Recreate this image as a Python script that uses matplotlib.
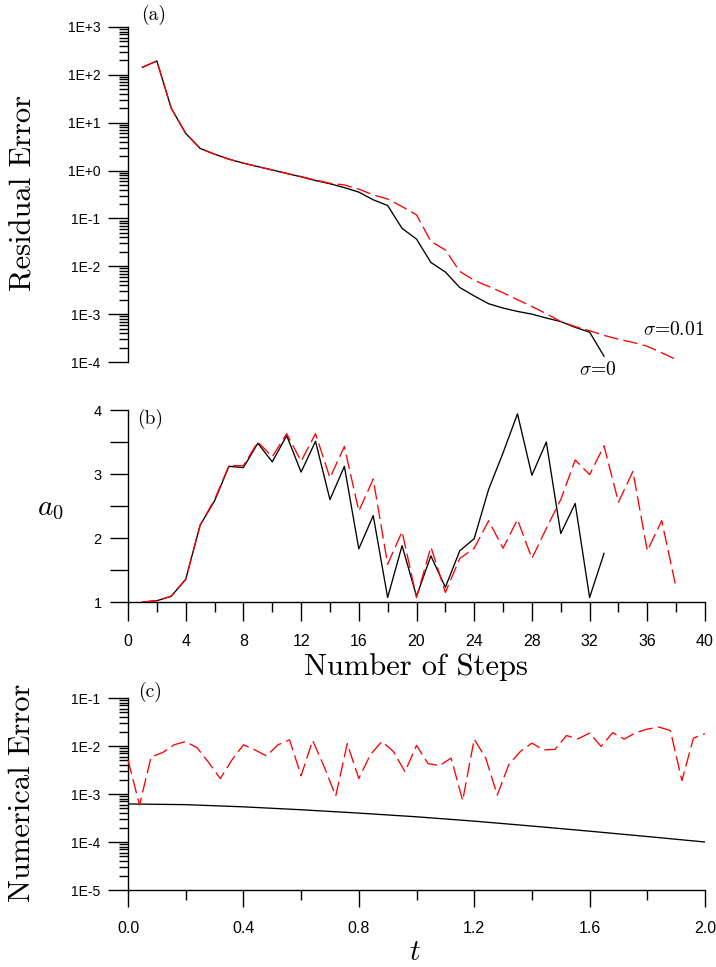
import numpy as np
import matplotlib
matplotlib.use("Agg")
import matplotlib.pyplot as plt
from matplotlib.ticker import FixedLocator, FuncFormatter, LogLocator, MultipleLocator, NullFormatter

plt.rcParams['mathtext.fontset'] = 'cm'
plt.rcParams['font.family'] = ['Liberation Sans', 'DejaVu Sans']

# ---------------- data ----------------
steps_black = list(range(1, 34))
steps_red = list(range(1, 39))

resid_black = [144, 195, 20, 6.0, 2.9, 2.2, 1.73, 1.43, 1.21, 1.03, 0.87, 0.74, 0.62,
               0.53, 0.44, 0.355, 0.245, 0.186, 0.062, 0.037, 0.012, 0.0076, 0.0036,
               0.0024, 0.00165, 0.00134, 0.00114, 0.001, 0.00083, 0.0007, 0.00053,
               0.00042, 0.000132]
resid_red = [144, 195, 20, 6.0, 2.9, 2.2, 1.73, 1.43, 1.21, 1.03, 0.87, 0.75, 0.63,
             0.545, 0.50, 0.41, 0.31, 0.255, 0.177, 0.119, 0.033, 0.022, 0.0078,
             0.0051, 0.0038, 0.0028, 0.002, 0.00145, 0.00102, 0.0007, 0.00055,
             0.00045, 0.00036, 0.0003, 0.000257, 0.000213, 0.000156, 0.000113]

a0_black = [1.0, 1.02, 1.09, 1.355, 2.2, 2.58, 3.12, 3.10, 3.48, 3.19, 3.60, 3.03, 3.51,
            2.60, 3.12, 1.83, 2.35, 1.07, 1.88, 1.09, 1.72, 1.23, 1.80, 1.99, 2.76, 3.33,
            3.94, 2.98, 3.50, 2.07, 2.54, 1.07, 1.76]
a0_red = [1.0, 1.02, 1.09, 1.355, 2.2, 2.6, 3.13, 3.13, 3.50, 3.27, 3.63, 3.20, 3.63,
          2.94, 3.43, 2.42, 2.92, 1.59, 2.10, 1.07, 1.86, 1.15, 1.68, 1.84, 2.27, 1.84,
          2.29, 1.68, 2.15, 2.60, 3.22, 2.99, 3.44, 2.56, 3.04, 1.80, 2.27, 1.22]

t_red = np.linspace(0.0, 2.0, 51)
err_red = [0.0051, 0.00059, 0.0059, 0.0073, 0.0106, 0.0124, 0.0091, 0.0045, 0.0021,
           0.0051, 0.0106, 0.0083, 0.0062, 0.0106, 0.0134, 0.0024, 0.013, 0.0037,
           0.00091, 0.0112, 0.0021, 0.0066, 0.0124, 0.0077, 0.0029, 0.0103, 0.0043,
           0.0039, 0.0056, 0.00073, 0.0139, 0.0056, 0.00095, 0.0041, 0.0077, 0.0115,
           0.0083, 0.0085, 0.0165, 0.0141, 0.0186, 0.0098, 0.019, 0.0139, 0.019,
           0.0225, 0.0248, 0.021, 0.0019, 0.0146, 0.018]
t_black = [0.0, 0.2, 0.4, 0.6, 0.8, 1.0, 1.2, 1.4, 1.6, 1.8, 2.0]
err_black = [6.2e-4, 6.0e-4, 5.4e-4, 4.7e-4, 4.0e-4, 3.35e-4, 2.72e-4, 2.15e-4,
             1.68e-4, 1.3e-4, 1.0e-4]

# ---------------- layout ----------------
W, H = 716, 967
fig = plt.figure(figsize=(W / 100, H / 100), dpi=100)


def rect(l, t, r, b):
    return [l / W, 1 - b / H, (r - l) / W, (b - t) / H]


def fx(x):
    return x / W


def fy(y):
    return 1 - y / H


RED = '#ff0000'
LW = 0.95
DASH = (11, 4)
SPINE_LW = 1.0
SERIF = 'cmr10'


def sci(v, p):
    e = int(round(np.log10(v)))
    return f"1E{e:+d}"


def style_log_y(ax):
    ax.set_yscale('log')
    ax.yaxis.set_major_locator(LogLocator(base=10, numticks=20))
    ax.yaxis.set_minor_locator(LogLocator(base=10, subs=np.arange(2, 10), numticks=20))
    ax.yaxis.set_major_formatter(FuncFormatter(sci))
    ax.yaxis.set_minor_formatter(NullFormatter())
    ax.tick_params(axis='y', which='major', direction='out', length=14.4, width=1.0,
                   labelsize=10, pad=5.5)
    ax.tick_params(axis='y', which='minor', direction='out', length=6.5, width=1.0)


# ---- (a) ----
axA = fig.add_axes(rect(128, 27, 705, 362))
axA.plot(steps_black, resid_black, color='black', lw=LW, zorder=3)
axA.plot(steps_red, resid_red, color=RED, lw=LW, dashes=DASH, zorder=4)
style_log_y(axA)
axA.set_ylim(1e-4, 1e3)
axA.set_xlim(0, 40)
for s in ['top', 'right', 'bottom']:
    axA.spines[s].set_visible(False)
axA.spines['left'].set_linewidth(SPINE_LW)
axA.xaxis.set_visible(False)
axA.patch.set_visible(False)

# ---- (b) ----
axB = fig.add_axes(rect(128, 410, 705, 602))
axB.plot(steps_black, a0_black, color='black', lw=LW, zorder=3)
axB.plot(steps_red, a0_red, color=RED, lw=LW, dashes=DASH, zorder=4)
axB.set_xlim(0, 40)
axB.set_ylim(1, 4)
for s in ['top', 'right']:
    axB.spines[s].set_visible(False)
for s in ['left', 'bottom']:
    axB.spines[s].set_linewidth(SPINE_LW)
axB.yaxis.set_major_locator(FixedLocator([1, 2, 3, 4]))
axB.yaxis.set_minor_locator(FixedLocator([1.5, 2.5, 3.5]))
axB.xaxis.set_major_locator(MultipleLocator(4))
axB.xaxis.set_minor_locator(MultipleLocator(2))
axB.tick_params(axis='y', which='both', direction='out', length=13, width=1.0,
                labelsize=10.5, pad=6)
axB.tick_params(axis='x', which='major', direction='out', length=13.7, width=1.0,
                labelsize=11.5, pad=9)
axB.tick_params(axis='x', which='minor', direction='out', length=7.2, width=1.0)
axB.patch.set_visible(False)

# ---- (c) ----
axC = fig.add_axes(rect(128, 698, 705, 890))
axC.plot(t_black, err_black, color='black', lw=LW, zorder=3)
axC.plot(t_red, err_red, color=RED, lw=LW, dashes=DASH, zorder=4)
style_log_y(axC)
axC.set_ylim(1e-5, 1e-1)
axC.set_xlim(0, 2.0)
for s in ['top', 'right']:
    axC.spines[s].set_visible(False)
for s in ['left', 'bottom']:
    axC.spines[s].set_linewidth(SPINE_LW)
axC.xaxis.set_major_locator(MultipleLocator(0.4))
axC.xaxis.set_minor_locator(MultipleLocator(0.2))
axC.xaxis.set_major_formatter(FuncFormatter(lambda v, p: f"{v:.1f}"))
axC.tick_params(axis='x', which='major', direction='out', length=12.5, width=1.0,
                labelsize=11.5, pad=10)
axC.tick_params(axis='x', which='minor', direction='out', length=7.2, width=1.0)
axC.patch.set_visible(False)

# ---- texts ----
fig.text(fx(154), fy(15), '(a)', family=SERIF, fontsize=14, ha='center', va='center')
fig.text(fx(150), fy(419), '(b)', family=SERIF, fontsize=14, ha='center', va='center')
fig.text(fx(150), fy(692), '(c)', family=SERIF, fontsize=14, ha='center', va='center')

fig.text(fx(24), fy(193), 'Residual Error', family=SERIF, fontsize=22,
         rotation=90, ha='center', va='center')
fig.text(fx(22), fy(793), 'Numerical Error', family=SERIF, fontsize=22,
         rotation=90, ha='center', va='center')
fig.text(fx(416), fy(675), 'Number of Steps', family=SERIF, fontsize=22,
         ha='center', va='baseline')
fig.text(fx(50), fy(508), r'$a_0$', fontsize=21, ha='center', va='center')
fig.text(fx(415), fy(952), r'$t$', fontsize=21, ha='center', va='center')

fig.text(fx(674), fy(330), r'$\sigma$=0.01', family=SERIF, fontsize=14,
         ha='center', va='center')
fig.text(fx(598), fy(370), r'$\sigma$=0', family=SERIF, fontsize=14,
         ha='center', va='center')

fig.savefig('out.png', dpi=100)
